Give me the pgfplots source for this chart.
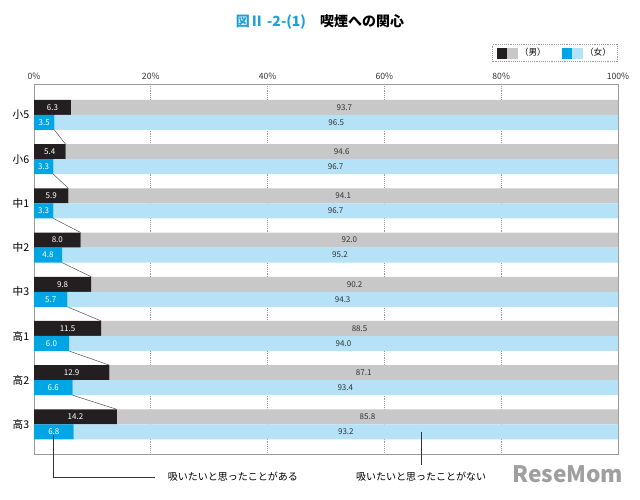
\documentclass[border=0pt]{standalone}
\usepackage{pgfplots}
\pgfplotsset{compat=1.18}
\usepackage{pgfplotstable}
\usepackage{fontspec}
\setmainfont{Noto Sans CJK JP}

\definecolor{mblack}{HTML}{231F20}
\definecolor{mgray}{HTML}{C8C8C8}
\definecolor{fcyan}{HTML}{00A5E3}
\definecolor{flight}{HTML}{B5E2F7}
\definecolor{titlecyan}{HTML}{1EA0D8}
\definecolor{framegray}{HTML}{9A9A9A}
\definecolor{valtext}{HTML}{333333}

% idx: 0 = 小5 ... 7 = 高3
\pgfplotstableread{
idx ms   mn   fs  fn
0   6.3  93.7 3.5 96.5
1   5.4  94.6 3.3 96.7
2   5.9  94.1 3.3 96.7
3   8.0  92.0 4.8 95.2
4   9.8  90.2 5.7 94.3
5   11.5 88.5 6.0 94.0
6   12.9 87.1 6.6 93.4
7   14.2 85.8 6.8 93.2
}\smokedata

\pgfplotsset{
  base/.style={
    at={(25.5pt,-63pt)}, anchor=north west,
    scale only axis, width=438pt, height=277.5pt,
    xmin=0, xmax=100, ymin=-0.70, ymax=7.67, y dir=reverse,
  },
  vals/.style={
    point meta=rawx,
    nodes near coords={\pgfmathprintnumber[fixed,fixed zerofill,precision=1,assume math mode=true]{\pgfplotspointmeta}},
    nodes near coords style={anchor=center, inner sep=0pt,
      font=\fontsize{6}{7}\selectfont, text=#1},
  },
}

\begin{document}
\begin{tikzpicture}
\path[use as bounding box] (0,0) rectangle (480pt,-375pt);

\node[font=\bfseries\fontsize{10.5}{12}\selectfont] at (240pt,-16.5pt)
  {\textcolor{titlecyan}{図Ⅱ -2-(1)}\quad 喫煙への関心};

% male
\begin{axis}[base,
  xbar stacked, bar width=11.25pt,
  axis line style={framegray, line width=0.7pt},
  xtick={0,20,...,100},
  xticklabels={0\%,20\%,40\%,60\%,80\%,100\%},
  xticklabel pos=upper,
  ytick={0,...,7},
  yticklabels={小5,小6,中1,中2,中3,高1,高2,高3},
  x tick label style={font=\fontsize{6.5}{7}\selectfont, text=valtext},
  y tick label style={font=\fontsize{8}{9}\selectfont, text=black},
  major tick length=0pt,
  xmajorgrids, grid style={densely dotted, framegray, line width=0.5pt},
  legend style={at={(1,1)}, anchor=south east, yshift=16.5pt,
    draw=framegray, densely dotted, legend columns=2,
    inner ysep=1pt,
    font=\fontsize{6.5}{7}\selectfont,
    /tikz/every even column/.append style={column sep=10pt}},
]
\addplot[forget plot, draw=none, fill=mblack, bar shift=5.625pt, vals=white]
  table[x=ms, y=idx] {\smokedata};
\addplot[forget plot, draw=none, fill=mgray, bar shift=5.625pt, vals=valtext]
  table[x=mn, y=idx] {\smokedata};
\addlegendimage{legend image code/.code={
  \fill[mblack] (0pt,-3.75pt) rectangle (7.5pt,3.75pt);
  \fill[mgray] (7.5pt,-3.75pt) rectangle (15pt,3.75pt);}}
\addlegendentry{（男）}
\addlegendimage{legend image code/.code={
  \fill[fcyan] (0pt,-3.75pt) rectangle (7.5pt,3.75pt);
  \fill[flight] (7.5pt,-3.75pt) rectangle (15pt,3.75pt);}}
\addlegendentry{（女）}
\end{axis}

% female
\begin{axis}[base, hide axis, xbar stacked, bar width=11.25pt]
\addplot[draw=none, fill=fcyan, bar shift=-5.625pt, vals=white]
  table[x=fs, y=idx] {\smokedata};
\addplot[draw=none, fill=flight, bar shift=-5.625pt, vals=valtext]
  table[x=fn, y=idx] {\smokedata};
\end{axis}

% connectors and notes
\begin{axis}[base, hide axis, clip=false]
\addplot[gray!70!black, line width=0.4pt, mark=none] coordinates {(3.5,0.34) (5.4,0.66)};
\addplot[gray!70!black, line width=0.4pt, mark=none] coordinates {(3.3,1.34) (5.9,1.66)};
\addplot[gray!70!black, line width=0.4pt, mark=none] coordinates {(3.3,2.34) (8.0,2.66)};
\addplot[gray!70!black, line width=0.4pt, mark=none] coordinates {(4.8,3.34) (9.8,3.66)};
\addplot[gray!70!black, line width=0.4pt, mark=none] coordinates {(5.7,4.34) (11.5,4.66)};
\addplot[gray!70!black, line width=0.4pt, mark=none] coordinates {(6.0,5.34) (12.9,5.66)};
\addplot[gray!70!black, line width=0.4pt, mark=none] coordinates {(6.6,6.34) (14.2,6.66)};
\draw[black!80, line width=0.6pt] (axis cs:3.4,7.25) |- (axis cs:20.7,8.19);
\node[anchor=west, font=\fontsize{7.5}{8}\selectfont] at (axis cs:22.1,8.19) {吸いたいと思ったことがある};
\draw[black!80, line width=0.6pt] (axis cs:66.3,7.17) -- (axis cs:66.3,7.92);
\node[font=\fontsize{7.5}{8}\selectfont] at (axis cs:66.3,8.19) {吸いたいと思ったことがない};
\end{axis}

\node[anchor=east, text=gray!75, font=\bfseries\fontsize{17}{17}\selectfont] at (471pt,-356pt) {ReseMom};
\end{tikzpicture}
\end{document}
